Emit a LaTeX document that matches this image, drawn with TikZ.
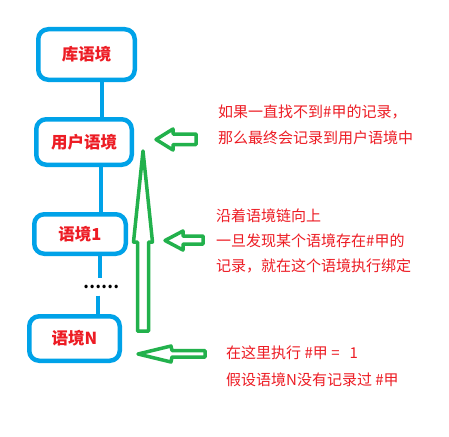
\documentclass[tikz,border=0pt]{standalone}
\usepackage{fontspec}
\newfontfamily\cjk{Noto Sans CJK SC}
\definecolor{pblue}{RGB}{0,162,232}
\definecolor{pgreen}{RGB}{34,177,76}
\definecolor{pred}{RGB}{237,28,36}
\tikzset{
  ctx/.style={draw=pblue, line width=4.5pt, rounded corners=10pt, inner sep=0pt,
    font=\cjk\bfseries\fontsize{16.5}{18}\selectfont, text=pred},
  conn/.style={draw=pblue, line width=4pt},
  garrow/.style={draw=pgreen, line width=3.5pt, line join=round, fill=white},
  note/.style={anchor=west, inner sep=0pt, align=left, text=pred},
}
\begin{document}
\begin{tikzpicture}[x=1pt,y=-1pt]
\useasboundingbox[fill=white] (0,0) rectangle (449,436);
% context boxes
\node[ctx, minimum width=96.5pt, minimum height=50.5pt] (b1) at (86.5,54.5) {库语境};
\node[ctx, minimum width=95.5pt, minimum height=45.5pt] (b2) at (84,142) {用户语境};
\node[ctx, minimum width=91.5pt, minimum height=39.5pt] (b3) at (80,234) {语境1};
\node[ctx, minimum width=90.5pt, minimum height=44.5pt] (bN) at (74.5,338.5) {语境N};
\node[inner sep=0pt, minimum height=17pt, font=\cjk\bfseries\fontsize{16}{18}\selectfont] (dots) at (101,287) {……};
% connector positions
\coordinate (xa) at (102,0);
\coordinate (xb) at (101,0);
\coordinate (xc) at (100,0);
\coordinate (xd) at (98,0);
\draw[conn] (b1.south -| xa) -- (b2.north -| xa);
\draw[conn] (b2.south -| xb) -- (b3.north -| xb);
\draw[conn] (b3.south -| xc) -- (dots.north -| xc);
\draw[conn] (dots.south -| xd) -- (bN.north -| xd);
% big upward arrow
\draw[garrow] (137.5,331) -- (137.5,242) -- (133.5,242) -- (143,151) -- (152.5,242) -- (148.5,242) -- (148.5,331) -- cycle;
% small left arrows
\draw[garrow] (156,139.5) -- (173,129) -- (173,134) -- (196,134) -- (196,144.5) -- (173,144.5) -- (173,150) -- cycle;
\draw[garrow] (165,240.5) -- (183,231) -- (183,236) -- (203,236) -- (203,244) -- (183,244) -- (183,250) -- cycle;
\draw[garrow] (138,354) -- (171,346) -- (172,350.5) -- (205,350.5) -- (205,357) -- (172,357) -- (171,362) -- cycle;
% notes
\node[note, font=\cjk\fontsize{15}{26}\selectfont] (n1) at (218,125) {如果一直找不到\#甲的记录，\\那么最终会记录到用户语境中};
\node[note, font=\cjk\fontsize{15}{25}\selectfont] (n2) at (216,241) {沿着语境链向上\\一旦发现某个语境存在\#甲的\\记录，就在这个语境执行绑定};
\node[note, font=\cjk\fontsize{15}{27}\selectfont] (n3) at (226,366.5) {在这里执行 \#甲 = \ \ 1\\假设语境N没有记录过 \#甲};
\end{tikzpicture}
\end{document}
